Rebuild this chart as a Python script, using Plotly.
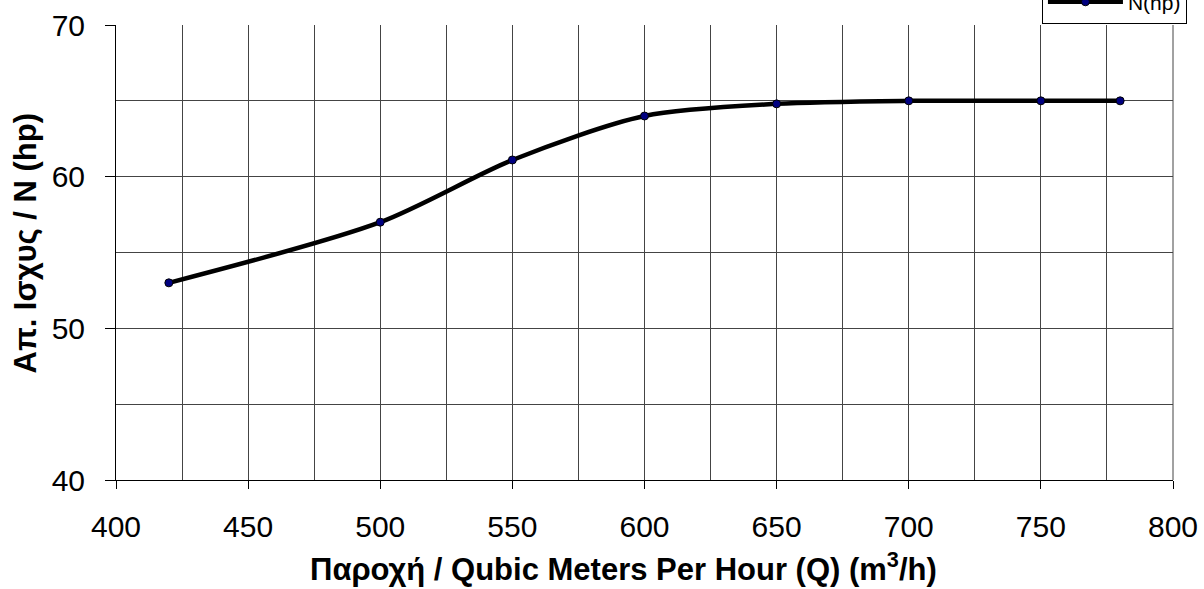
import plotly.graph_objects as go

q = [420, 500, 550, 600, 650, 700, 750, 780]
n_hp = [53, 57, 61.1, 64, 64.8, 65, 65, 65]
series_name = "N(hp)"
x_title = "<b>Παροχή / Qubic Meters Per Hour (Q) (m<sup>3</sup>/h)</b>"
y_title = "<b>Απ. Ισχυς / N (hp)</b>"

fig = go.Figure()
fig.add_trace(go.Scatter(
    x=q, y=n_hp, name=series_name, mode="lines+markers",
    line=dict(color="black", width=4.5, shape="spline", smoothing=0.8),
    marker=dict(color="#000080", size=8, line=dict(color="black", width=1)),
))

font_fam = "Liberation Sans, Arial"
axis_font = dict(family=font_fam, size=30, color="black")
title_font = dict(family=font_fam, size=31, color="black")

fig.update_layout(
    width=1204, height=589,
    margin=dict(l=116, r=31, t=25, b=109, autoexpand=False),
    plot_bgcolor="white", paper_bgcolor="white",
    showlegend=True,
    legend=dict(x=1.0132, xanchor="right", y=1.003, yanchor="bottom",
                bordercolor="black", borderwidth=1, bgcolor="white", itemwidth=75,
                font=dict(family=font_fam, size=21, color="black")),
    xaxis=dict(range=[400, 800], dtick=50, tick0=400, showline=True, linecolor="black", linewidth=1,
               ticks="outside", ticklen=8, tickcolor="black", showgrid=True, gridcolor="#444", gridwidth=1,
               minor=dict(dtick=25, showgrid=True, gridcolor="#444", gridwidth=1),
               tickfont=axis_font, zeroline=False, automargin=False, ticklabelstandoff=12),
    yaxis=dict(range=[40, 70], dtick=10, tick0=40, showline=True, linecolor="black", linewidth=1,
               ticks="outside", ticklen=10, tickcolor="black", showgrid=True, gridcolor="#444", gridwidth=1,
               minor=dict(dtick=5, showgrid=True, gridcolor="#444", gridwidth=1),
               tickfont=axis_font, zeroline=False, automargin=False, ticklabelstandoff=14),
    annotations=[
        dict(text=x_title, xref="paper", yref="paper", x=0.48, y=-0.191, xanchor="center", yanchor="middle",
             showarrow=False, font=title_font),
        dict(text=y_title, xref="paper", yref="paper", x=-0.0861, y=0.522, xanchor="center", yanchor="middle",
             textangle=-90, showarrow=False, font=title_font),
    ],
)
fig.add_shape(type="line", xref="paper", yref="paper", x0=1, x1=1, y0=0, y1=1, line=dict(color="#444", width=1))
fig.write_html("out.html", config={"displayModeBar": False},
               post_script="document.body.style.margin='0';")
